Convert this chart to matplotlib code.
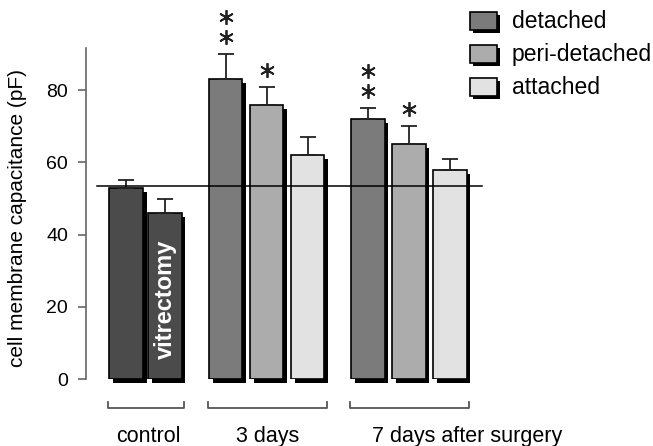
import numpy as np
import matplotlib.pyplot as plt
from matplotlib.patches import Rectangle

plt.rcParams['font.family'] = ['Liberation Sans', 'DejaVu Sans']

# Data (pF)
control_vals = [53, 46]
control_err = [2, 4]
detached = [83, 72]
detached_err = [7, 3]
peri_detached = [76, 65]
peri_detached_err = [5, 5]
attached = [62, 58]
attached_err = [5, 3]
stars_detached = [2, 2]
stars_peri = [1, 1]
control_mean = 53.4
group_labels = ['control', '3 days', '7 days after surgery']
series_labels = ['detached', 'peri-detached', 'attached']

c_control = '#4b4b4b'
c_series = ['#7b7b7b', '#acacac', '#e2e2e2']

# x positions of bars
pos_control = [0.0, 0.95]
pos_3d = [2.43, 3.43, 4.43]
pos_7d = [5.9, 6.9, 7.9]

fig = plt.figure(figsize=(6.53, 4.46), dpi=100)
W, H = 653, 446
ax = fig.add_axes([86 / W, 67 / H, (490 - 86) / W, 331 / H])
ax.set_xlim(-0.976, 8.878)
ax.set_ylim(0, 91.7)

width = 0.82
dx, dy = 0.09, -1.1  # shadow offset


def draw_bars(xs, vals, errs, colors):
    for x, v, e, c in zip(xs, vals, errs, colors):
        ax.bar(x + dx, v, width, bottom=dy, color='black', zorder=1, clip_on=False)
        ax.bar(x, v, width, color=c, edgecolor='black', linewidth=1.2, zorder=2)
        ax.errorbar(x, v, yerr=[[0], [e]], fmt='none', ecolor='#222222',
                    elinewidth=1.3, capsize=5.5, capthick=1.3, zorder=3)


draw_bars(pos_control, control_vals, control_err, [c_control, c_control])
draw_bars(pos_3d, [detached[0], peri_detached[0], attached[0]],
          [detached_err[0], peri_detached_err[0], attached_err[0]], c_series)
draw_bars(pos_7d, [detached[1], peri_detached[1], attached[1]],
          [detached_err[1], peri_detached_err[1], attached_err[1]], c_series)

ax.text(pos_control[1] + 0.02, 22, 'vitrectomy', rotation=90, color='white',
        fontsize=17, fontweight='bold', ha='center', va='center', zorder=4)


# significance stars
def stars(x, top, n):
    for k in range(n):
        ax.plot(x, top + 4.7 + 5.6 * k, marker=(6, 2, 0), color='#222222',
                markersize=10.5, markeredgewidth=1.3, clip_on=False, zorder=4)


for i, (xd, xp) in enumerate([(pos_3d[0], pos_3d[1]), (pos_7d[0], pos_7d[1])]):
    stars(xd, detached[i] + detached_err[i], stars_detached[i])
    stars(xp, peri_detached[i] + peri_detached_err[i], stars_peri[i])

# control reference line
ax.plot([-0.707, 8.68], [control_mean, control_mean], color='black', lw=1.1,
        zorder=5, clip_on=False)

# axes styling
for s in ['top', 'right', 'bottom']:
    ax.spines[s].set_visible(False)
ax.spines['left'].set_color('#666666')
ax.spines['left'].set_linewidth(1.2)
ax.set_xticks([])
ax.set_yticks([0, 20, 40, 60, 80])
ax.tick_params(axis='y', length=6, width=1.2, color='#666666', pad=7,
               labelsize=14)
ax.set_ylabel('cell membrane capacitance (pF)', fontsize=15)
ax.yaxis.set_label_coords(-0.146, 0.486)

# group brackets and labels
groups = [pos_control, pos_3d, pos_7d]
label_x = [0.54, 3.46, 8.32]
for g, lx, lab in zip(groups, label_x, group_labels):
    x0, x1 = min(g) - 0.43, max(g) + 0.47
    ax.plot([x0, x0, x1, x1], [-6.3, -8.0, -8.0, -6.3], color='#555555',
            lw=1.3, clip_on=False)
    ax.text(lx, -15.8, lab, fontsize=15.5, ha='center', va='center')

# legend with shadowed boxes
for i, (lab, c) in enumerate(zip(series_labels, c_series)):
    yc = 21 + 33 * i
    x0, bw, bh = 470, 27, 18
    fig.patches.append(Rectangle(((x0 + 3) / W, 1 - (yc + bh / 2 + 3) / H),
                                 bw / W, bh / H, transform=fig.transFigure,
                                 facecolor='black', edgecolor='none'))
    fig.patches.append(Rectangle((x0 / W, 1 - (yc + bh / 2) / H),
                                 bw / W, bh / H, transform=fig.transFigure,
                                 facecolor=c, edgecolor='black', linewidth=1.2))
    fig.text(512 / W, 1 - yc / H, lab, fontsize=16.5, ha='left', va='center')

fig.savefig('out.png', dpi=100)
